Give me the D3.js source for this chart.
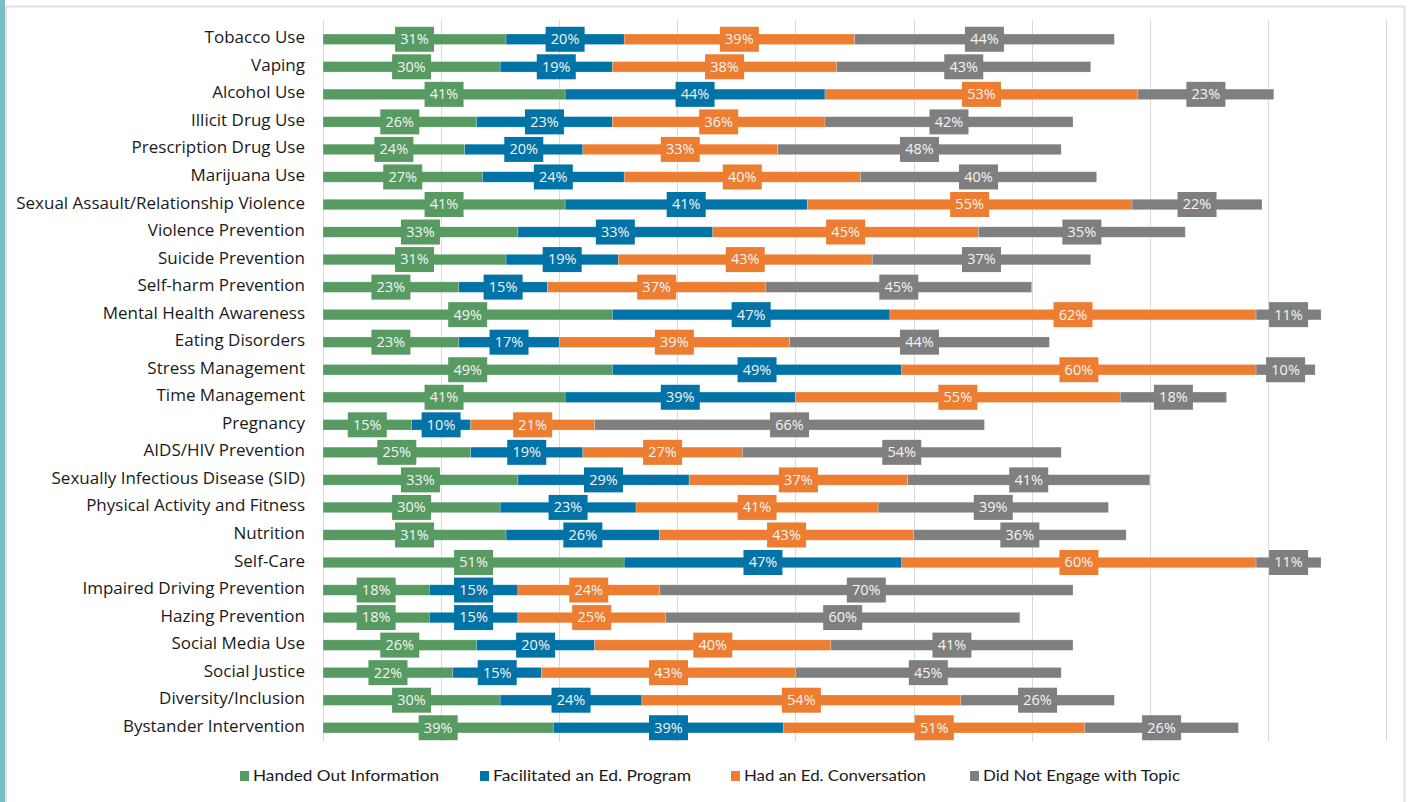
<!DOCTYPE html>
<html>
<head>
<meta charset="utf-8">
<script src="https://cdn.jsdelivr.net/npm/d3@7"></script>
<style>
  html, body { margin: 0; padding: 0; background: #ffffff; }
  svg { display: block; }
</style>
</head>
<body>
<svg id="chart" width="1408" height="802"></svg>
<script>
// Topic categories, top to bottom
const categories = [
  "Tobacco Use", "Vaping", "Alcohol Use", "Illicit Drug Use", "Prescription Drug Use",
  "Marijuana Use", "Sexual Assault/Relationship Violence", "Violence Prevention",
  "Suicide Prevention", "Self-harm Prevention", "Mental Health Awareness",
  "Eating Disorders", "Stress Management", "Time Management", "Pregnancy",
  "AIDS/HIV Prevention", "Sexually Infectious Disease (SID)",
  "Physical Activity and Fitness", "Nutrition", "Self-Care",
  "Impaired Driving Prevention", "Hazing Prevention", "Social Media Use",
  "Social Justice", "Diversity/Inclusion", "Bystander Intervention"
];

// Percent of respondents per engagement type
const handedOut = [31, 30, 41, 26, 24, 27, 41, 33, 31, 23, 49, 23, 49, 41, 15, 25, 33, 30, 31, 51, 18, 18, 26, 22, 30, 39];
const facilitated = [20, 19, 44, 23, 20, 24, 41, 33, 19, 15, 47, 17, 49, 39, 10, 19, 29, 23, 26, 47, 15, 15, 20, 15, 24, 39];
const conversation = [39, 38, 53, 36, 33, 40, 55, 45, 43, 37, 62, 39, 60, 55, 21, 27, 37, 41, 43, 60, 24, 25, 40, 43, 54, 51];
const notEngaged = [44, 43, 23, 42, 48, 40, 22, 35, 37, 45, 11, 44, 10, 18, 66, 54, 41, 39, 36, 11, 70, 60, 41, 45, 26, 26];

const seriesNames = ["Handed Out Information", "Facilitated an Ed. Program", "Had an Ed. Conversation", "Did Not Engage with Topic"];
const seriesValues = [handedOut, facilitated, conversation, notEngaged];
const seriesColors = ["#579b63", "#0273a7", "#ed7d31", "#7f7f7f"];
const gridTicks = [0, 20, 40, 60, 80, 100, 120, 140, 160, 180];

const svg = d3.select("#chart");

// Frame
svg.append("rect").attr("x", 0).attr("y", 0).attr("width", 5).attr("height", 802).attr("fill", "#7bbcc5");
svg.append("rect").attr("x", 6).attr("y", 6.5).attr("width", 1398.5).attr("height", 820)
  .attr("fill", "#ffffff").attr("stroke", "#e2e2e2").attr("stroke-width", 2);

const x = d3.scaleLinear().domain([0, 180]).range([323, 1386]);
const y = d3.scaleBand().domain(categories).range([25.5, 741.5]).paddingInner(0.62).paddingOuter(0.31);

// Gridlines
svg.append("g").selectAll("line").data(gridTicks).join("line")
  .attr("x1", d => Math.round(x(d)) + 0.5).attr("x2", d => Math.round(x(d)) + 0.5)
  .attr("y1", 20).attr("y2", 742)
  .attr("stroke", "#d9d9d9").attr("stroke-width", 1);

// Stack the series
const rows = categories.map((c, i) => {
  const r = { category: c };
  seriesNames.forEach((s, k) => { r[s] = seriesValues[k][i]; });
  return r;
});
const stacked = d3.stack().keys(seriesNames)(rows);

const layers = svg.append("g").selectAll("g").data(stacked).join("g")
  .attr("fill", (d, k) => seriesColors[k]);

layers.selectAll("rect").data(d => d).join("rect")
  .attr("x", d => x(d[0]))
  .attr("width", d => x(d[1]) - x(d[0]))
  .attr("y", d => y(d.data.category))
  .attr("height", y.bandwidth())
  .attr("stroke", "#ffffff").attr("stroke-opacity", 0.35).attr("stroke-width", 0.6);

// Value labels in boxes
const textFont = "'Open Sans', 'Noto Sans', sans-serif";
stacked.forEach((layer, k) => {
  const g = svg.append("g");
  layer.forEach(d => {
    const cx = (x(d[0]) + x(d[1])) / 2;
    const cy = y(d.data.category) + y.bandwidth() / 2;
    const txt = (d[1] - d[0]) + "%";
    g.append("rect")
      .attr("x", cx - 19.5).attr("y", cy - 12.5)
      .attr("width", 39).attr("height", 25)
      .attr("fill", seriesColors[k]);
    g.append("text")
      .attr("x", cx).attr("y", cy + 1)
      .attr("text-anchor", "middle").attr("dominant-baseline", "middle")
      .attr("fill", "#f4f4f4")
      .style("font-family", textFont).style("font-size", "14.5px")
      .text(txt);
  });
});

// Category labels
svg.append("g").selectAll("text").data(categories).join("text")
  .attr("x", 305)
  .attr("y", d => y(d) + y.bandwidth() / 2 - 0.5)
  .attr("text-anchor", "end").attr("dominant-baseline", "middle")
  .attr("fill", "#1a1a1a")
  .style("font-family", textFont).style("font-size", "17px")
  .text(d => d);

// Legend
const legendX = [240, 480, 731, 970];
const legendW = [186, 198, 182, 197];
const legend = svg.append("g").selectAll("g").data(seriesNames).join("g")
  .attr("transform", (d, k) => `translate(${legendX[k]},776)`);
legend.append("rect").attr("x", 0).attr("y", -5).attr("width", 9).attr("height", 10)
  .attr("fill", (d, k) => seriesColors[k]);
legend.append("text")
  .attr("x", 13).attr("y", 0.5)
  .attr("dominant-baseline", "middle")
  .attr("fill", "#1a1a1a")
  .attr("textLength", (d, k) => legendW[k]).attr("lengthAdjust", "spacingAndGlyphs")
  .style("font-family", "Lato, sans-serif").style("font-size", "16px")
  .text(d => d);
</script>
</body>
</html>
